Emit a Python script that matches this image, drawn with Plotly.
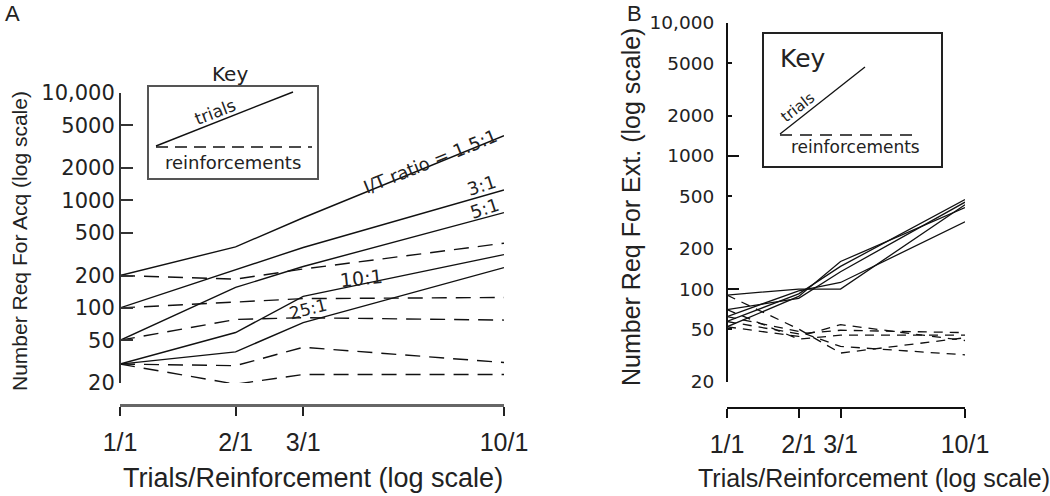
import plotly.graph_objects as go
import math

W, H = 1050, 496

# ---------------- data ----------------
x_vals = [1, 2, 3, 10]
x_ticktext = ["1/1", "2/1", "3/1", "10/1"]
y_tickvals = [20, 50, 100, 200, 500, 1000, 2000, 5000, 10000]
y_ticktext = ["20", "50", "100", "200", "500", "1000", "2000", "5000", "10,000"]
decade_ticks = [100, 1000, 10000]

ratios_a = ["1.5:1", "3:1", "5:1", "10:1", "25:1"]
acq_trials = {
    "1.5:1": [200, 370, 690, 4000],
    "3:1": [100, 228, 365, 1250],
    "5:1": [50, 155, 243, 770],
    "10:1": [30, 59, 128, 313],
    "25:1": [30, 39, 73, 237],
}
acq_reinf = {
    "1.5:1": [200, 185, 230, 400],
    "3:1": [100, 114, 122, 125],
    "5:1": [50, 78, 81, 77],
    "10:1": [30, 29, 43, 31],
    "25:1": [30, 19.5, 24, 24],
}

ext_trials = [
    [90, 100, 100, 430],
    [62, 97, 112, 320],
    [57, 92, 148, 470],
    [52, 88, 161, 410],
    [70, 85, 135, 450],
]
ext_reinf = [
    [90, 50, 33, 43],
    [62, 48, 37, 32],
    [57, 46, 49, 47],
    [52, 44, 54, 41],
    [70, 42, 45, 45],
]

# ---------------- helpers ----------------
def P(x, y):
    return dict(x=x / W, y=1 - y / H, xref="paper", yref="paper")

TEXTFONT = "Liberation Sans"
WIDE = "DejaVu Sans"
NARROW = "Liberation Sans Narrow, Liberation Sans"

fig = go.Figure()

for r in ratios_a:
    fig.add_trace(go.Scatter(x=x_vals, y=acq_trials[r], mode="lines", xaxis="x", yaxis="y",
                             line=dict(color="#111", width=1.4), showlegend=False))
    fig.add_trace(go.Scatter(x=x_vals, y=acq_reinf[r], mode="lines", xaxis="x", yaxis="y",
                             line=dict(color="#111", width=1.4, dash="15px,9px"), showlegend=False))

for t, rr in zip(ext_trials, ext_reinf):
    fig.add_trace(go.Scatter(x=x_vals, y=t, mode="lines", xaxis="x2", yaxis="y2",
                             line=dict(color="#111", width=1.3), showlegend=False))
    fig.add_trace(go.Scatter(x=x_vals, y=rr, mode="lines", xaxis="x2", yaxis="y2",
                             line=dict(color="#111", width=1.3, dash="9px,7px"), showlegend=False))

# invisible trace for overlay axis of B (decade ticks)
fig.add_trace(go.Scatter(x=[1], y=[100], mode="lines", xaxis="x2", yaxis="y3",
                         line=dict(width=0), showlegend=False, hoverinfo="skip"))

yr = [math.log10(20), 4]

fig.update_layout(
    width=W, height=H,
    margin=dict(l=0, r=0, t=0, b=0, pad=0, autoexpand=False),
    paper_bgcolor="white", plot_bgcolor="white",
    showlegend=False,
    xaxis=dict(type="log", range=[0, 1], domain=[120 / W, 504 / W], anchor="free",
               position=1 - 405 / H, tickvals=x_vals, ticktext=x_ticktext, automargin=False,
               ticks="outside", ticklen=9, tickwidth=1.5, tickcolor="#222",
               showline=True, linecolor="#666", linewidth=3, showgrid=False, zeroline=False,
               tickfont=dict(family=NARROW, size=25, color="#222"), ticklabelstandoff=5),
    yaxis=dict(type="log", range=yr, domain=[1 - 383 / H, 1 - 93 / H], anchor="free",
               position=120 / W, tickvals=y_tickvals, ticktext=y_ticktext, automargin=False,
               ticks="inside", ticklen=12, tickwidth=1.5, tickcolor="#333",
               showline=True, linecolor="#333", linewidth=2, showgrid=False, zeroline=False,
               tickfont=dict(family=WIDE, size=21, color="#222")),
    xaxis2=dict(type="log", range=[0, 1], domain=[727 / W, 965 / W], anchor="free",
                position=1 - 408 / H, tickvals=x_vals, ticktext=x_ticktext, automargin=False,
                ticks="outside", ticklen=9, tickwidth=1.5, tickcolor="#111",
                showline=True, linecolor="#111", linewidth=2, showgrid=False, zeroline=False,
                tickfont=dict(family=NARROW, size=25, color="#222"), ticklabelstandoff=5),
    yaxis2=dict(type="log", range=yr, domain=[1 - 382 / H, 1 - 23 / H], anchor="free",
                position=727 / W, tickvals=y_tickvals, ticktext=y_ticktext, automargin=False,
                ticks="inside", ticklen=4, tickwidth=1.5, tickcolor="#111",
                showline=True, linecolor="#111", linewidth=2, showgrid=False, zeroline=False,
                tickfont=dict(family=WIDE, size=18.5, color="#222"), ticklabelstandoff=8),
    yaxis3=dict(type="log", range=yr, domain=[1 - 382 / H, 1 - 23 / H], anchor="free",
                overlaying="y2", position=727 / W, tickvals=decade_ticks, automargin=False,
                ticks="inside", ticklen=11, tickwidth=1.5, tickcolor="#111",
                showticklabels=False, showline=False, showgrid=False, zeroline=False),
)

ann = []
def add_text(text, x, y, size, family=TEXTFONT, angle=0, color="#222", xanchor="center"):
    d = P(x, y)
    d.update(text=text, showarrow=False, textangle=angle, xanchor=xanchor, yanchor="middle",
             font=dict(family=family, size=size, color=color))
    ann.append(d)

# panel letters
add_text("A", 12, 14, 22)
add_text("B", 634, 13, 22)

# axis titles
add_text("Number Req For Acq (log scale)", 20, 241, 21, angle=-90)
add_text("Number Req For Ext. (log scale)", 631, 207, 25, angle=-90)
add_text("Trials/Reinforcement (log scale)", 313, 478, 27, family=NARROW)
add_text("Trials/Reinforcement (log scale)", 874, 478, 25, family=NARROW)

# line labels panel A
add_text("I/T ratio = 1.5:1", 430, 161, 18, family=WIDE, angle=-22)
add_text("3:1", 481, 185, 18, family=WIDE, angle=-18)
add_text("5:1", 484, 208, 18, family=WIDE, angle=-18)
add_text("10:1", 361, 278, 19, family=WIDE, angle=-6)
add_text("25:1", 308, 309, 17, family=WIDE, angle=-14)

# key A
add_text("Key", 230, 74, 20, family=WIDE)
add_text("trials", 215, 112, 17, family=WIDE, angle=-21)
add_text("reinforcements", 233, 162, 18, family=WIDE)

# key B
add_text("Key", 778, 58, 25, family=WIDE, xanchor="left")
add_text("trials", 798, 107, 15, family=WIDE, angle=-38)
add_text("reinforcements", 855, 147, 17, family=WIDE)

shapes = []
def pshape(kind, x0, y0, x1, y1, **kw):
    d = dict(type=kind, xref="paper", yref="paper", x0=x0 / W, y0=1 - y0 / H, x1=x1 / W, y1=1 - y1 / H)
    d.update(kw)
    shapes.append(d)

pshape("rect", 148, 86, 318, 179, line=dict(color="#555", width=2))
pshape("line", 156, 146, 293, 92, line=dict(color="#111", width=1.4))
pshape("line", 156, 147, 312, 147, line=dict(color="#111", width=1.4, dash="12px,7px"))

pshape("rect", 763, 33, 942, 167, line=dict(color="#222", width=2))
pshape("line", 780, 134, 865, 67, line=dict(color="#111", width=1.3))
pshape("line", 780, 135, 920, 135, line=dict(color="#111", width=1.3, dash="12px,8px"))

fig.update_layout(annotations=ann, shapes=shapes)

fig.write_html(
    "out.html",
    config={"displayModeBar": False},
    post_script="document.documentElement.style.margin='0';document.body.style.margin='0';"
                "document.body.style.padding='0';document.body.style.overflow='hidden';",
)
